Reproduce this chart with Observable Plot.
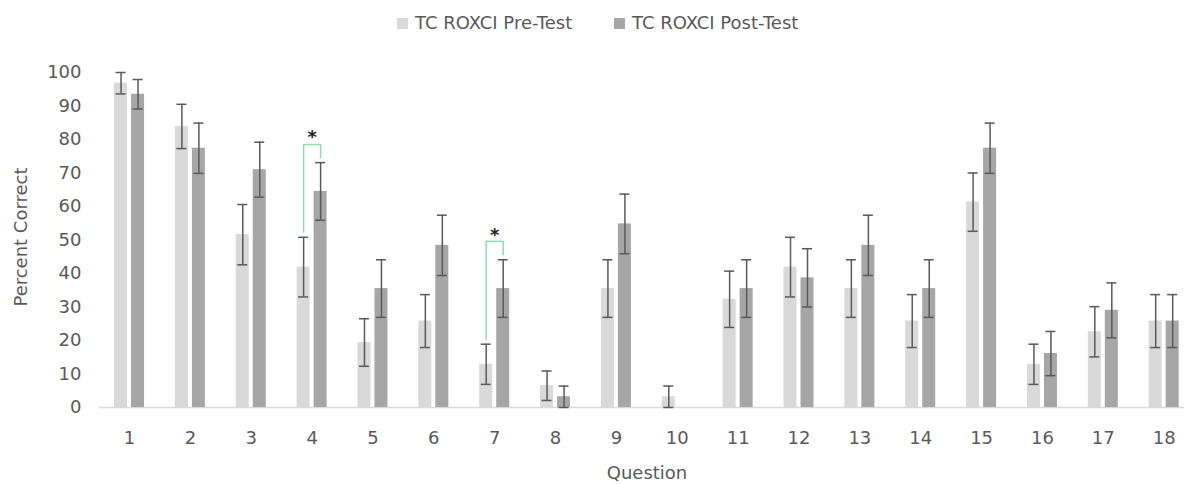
<!DOCTYPE html>
<html>
<head>
<meta charset="utf-8">
<script src="https://cdn.jsdelivr.net/npm/d3@7"></script>
<script src="https://cdn.jsdelivr.net/npm/@observablehq/plot@0.6"></script>
<style>
  html, body { margin: 0; padding: 0; background: #fff; }
  #wrap { position: relative; width: 1184px; height: 484px; overflow: hidden; font-family: "DejaVu Sans", sans-serif; color: #595959; }
  .lg-sw { position: absolute; width: 11px; height: 11px; top: 18px; }
  .lg-tx { position: absolute; top: 11px; font-size: 18px; line-height: 24px; white-space: nowrap; }
  #ytitle { position: absolute; left: 20px; top: 237px; transform: translate(-50%, -50%) rotate(-90deg); font-size: 18px; white-space: nowrap; }
  #xtitle { position: absolute; left: 647px; top: 472px; transform: translate(-50%, -50%); font-size: 18px; white-space: nowrap; }
</style>
</head>
<body>
<div id="wrap"></div>
<script>
// ---- data ----
const questions = [1,2,3,4,5,6,7,8,9,10,11,12,13,14,15,16,17,18];
const seriesNames = ["TC ROXCI Pre-Test", "TC ROXCI Post-Test"];
const seriesColors = ["#d9d9d9", "#a6a6a6"];
const preValues  = [96.8, 83.9, 51.6, 41.9, 19.4, 25.8, 12.9, 6.5, 35.5, 3.2, 32.3, 41.9, 35.5, 25.8, 61.3, 12.9, 22.6, 25.8];
const postValues = [93.5, 77.4, 71.0, 64.5, 35.5, 48.4, 35.5, 3.2, 54.8, 0, 35.5, 38.7, 48.4, 35.5, 77.4, 16.1, 29.0, 25.8];
const preErrors  = [3.2, 6.6, 9.0, 8.9, 7.1, 7.9, 6.0, 4.4, 8.6, 3.2, 8.4, 8.9, 8.6, 7.9, 8.7, 6.0, 7.5, 7.9];
const postErrors = [4.4, 7.5, 8.2, 8.6, 8.6, 9.0, 8.6, 3.2, 8.9, 0, 8.6, 8.7, 9.0, 8.6, 7.5, 6.6, 8.2, 7.9];
const yTicks = [0,10,20,30,40,50,60,70,80,90,100];
// significance brackets
const sigQuestions = [4, 7];
const sigLeftLow   = [52, 20];
const sigRightLow  = [74.3, 45.4];
const sigTop       = [78.5, 49.6];
const sigStarY     = [80.6, 51.5];

// ---- build tables ----
const pre = questions.map((q, i) => ({q, v: preValues[i], e: preErrors[i]}));
const post = questions.map((q, i) => ({q, v: postValues[i], e: postErrors[i]}));
const preErr = pre.filter(d => d.e > 0);
const postErr = post.filter(d => d.e > 0);
const sig = sigQuestions.map((q, i) => ({q, l: sigLeftLow[i], r: sigRightLow[i], t: sigTop[i], s: sigStarY[i]}));

const W = 1184, H = 484;
const x0 = 98.6, x1 = 1194.1;
const half = (x1 - x0) / questions.length / 2; // half band step
const errColor = "#595959";
const sigColor = "#8fdcb2";
const off = 8.5, barHalf = 6.5, capHalf = 5;

const chart = Plot.plot({
  width: W,
  height: H,
  marginLeft: 99,
  marginRight: 0,
  marginTop: 72,
  marginBottom: 77,
  style: {fontFamily: "DejaVu Sans, sans-serif", fontSize: "18px", color: "#595959", background: "white"},
  x: {type: "band", domain: questions, range: [x0, x1], padding: 0, round: false},
  y: {domain: [0, 100]},
  marks: [
    Plot.ruleY([0], {stroke: "#d9d9d9", strokeWidth: 1.5}),
    Plot.barY(pre, {x: "q", y: "v", fill: seriesColors[0],
      insetLeft: half - off - barHalf, insetRight: half + off - barHalf}),
    Plot.barY(post, {x: "q", y: "v", fill: seriesColors[1],
      insetLeft: half + off - barHalf, insetRight: half - off - barHalf}),
    // error bars
    Plot.ruleX(preErr, {x: "q", y1: d => Math.max(0, d.v - d.e), y2: d => d.v + d.e, dx: -off, stroke: errColor, strokeWidth: 1.5}),
    Plot.tickY(preErr, {x: "q", y: d => d.v + d.e, stroke: errColor, strokeWidth: 1.5,
      insetLeft: half - off - capHalf, insetRight: half + off - capHalf}),
    Plot.tickY(preErr, {x: "q", y: d => Math.max(0, d.v - d.e), stroke: errColor, strokeWidth: 1.5,
      insetLeft: half - off - capHalf, insetRight: half + off - capHalf}),
    Plot.ruleX(postErr, {x: "q", y1: d => Math.max(0, d.v - d.e), y2: d => d.v + d.e, dx: off, stroke: errColor, strokeWidth: 1.5}),
    Plot.tickY(postErr, {x: "q", y: d => d.v + d.e, stroke: errColor, strokeWidth: 1.5,
      insetLeft: half + off - capHalf, insetRight: half - off - capHalf}),
    Plot.tickY(postErr, {x: "q", y: d => Math.max(0, d.v - d.e), stroke: errColor, strokeWidth: 1.5,
      insetLeft: half + off - capHalf, insetRight: half - off - capHalf}),
    // significance brackets
    Plot.ruleX(sig, {x: "q", y1: "l", y2: "t", dx: -off, stroke: sigColor, strokeWidth: 1.5}),
    Plot.ruleX(sig, {x: "q", y1: "r", y2: "t", dx: off, stroke: sigColor, strokeWidth: 1.5}),
    Plot.tickY(sig, {x: "q", y: "t", stroke: sigColor, strokeWidth: 1.5,
      insetLeft: half - off, insetRight: half - off}),
    Plot.text(sig, {x: "q", y: "s", text: () => "*", fontSize: 18, fontWeight: "bold", fill: "#222", lineAnchor: "middle"}),
    // axes
    Plot.axisY({ticks: yTicks, tickSize: 0, tickPadding: 18, label: null}),
    Plot.axisX({tickSize: 0, tickPadding: 24, label: null})
  ]
});

const wrap = document.getElementById("wrap");
wrap.appendChild(chart);

// legend and axis titles (HTML text)
const legendItems = [
  {sw: 397, tx: 415},
  {sw: 614, tx: 632}
];
legendItems.forEach((p, i) => {
  const s = document.createElement("div");
  s.className = "lg-sw"; s.style.left = p.sw + "px"; s.style.background = seriesColors[i];
  wrap.appendChild(s);
  const t = document.createElement("div");
  t.className = "lg-tx"; t.style.left = p.tx + "px"; t.textContent = seriesNames[i];
  wrap.appendChild(t);
});
const yt = document.createElement("div"); yt.id = "ytitle"; yt.textContent = "Percent Correct"; wrap.appendChild(yt);
const xt = document.createElement("div"); xt.id = "xtitle"; xt.textContent = "Question"; wrap.appendChild(xt);
</script>
</body>
</html>
